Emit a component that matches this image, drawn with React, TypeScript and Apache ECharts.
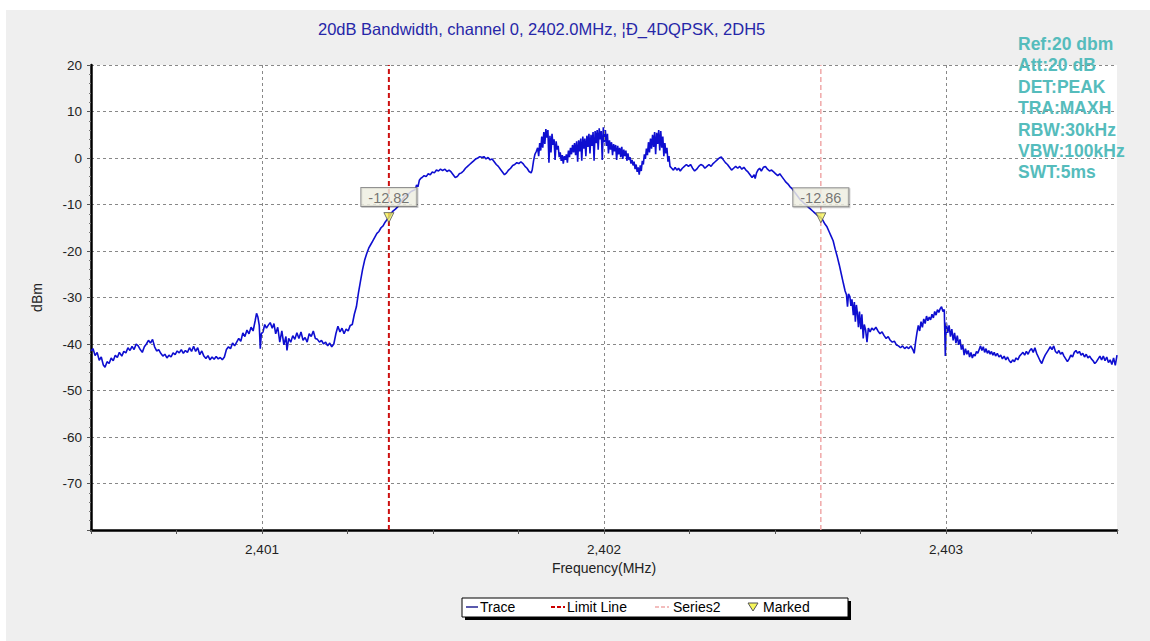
import React, { useEffect, useRef } from 'react';
import * as echarts from 'echarts';

// Trace readings [frequency MHz, level dBm]
const leftSkirt: number[][] = [
  [2400.500, -41.5], [2400.506, -41.0], [2400.512, -42.5], [2400.518, -41.8], [2400.524, -43.5], [2400.530, -42.8],
  [2400.536, -44.5], [2400.541, -45.0], [2400.547, -43.8], [2400.553, -44.2], [2400.559, -43.0], [2400.565, -43.6],
  [2400.571, -42.4], [2400.577, -42.9], [2400.583, -41.8], [2400.590, -42.6], [2400.596, -41.6], [2400.602, -41.9],
  [2400.608, -40.8], [2400.614, -41.4], [2400.620, -40.5], [2400.626, -41.2], [2400.632, -40.0], [2400.638, -40.4],
  [2400.644, -41.2], [2400.650, -41.8], [2400.656, -40.6], [2400.662, -40.0], [2400.668, -39.2], [2400.674, -39.8],
  [2400.680, -39.0], [2400.686, -40.6], [2400.692, -41.5], [2400.698, -41.2], [2400.704, -42.0], [2400.710, -42.6],
  [2400.716, -42.2], [2400.722, -43.0], [2400.728, -42.4], [2400.734, -42.8], [2400.740, -41.9], [2400.746, -42.3],
  [2400.752, -41.5], [2400.758, -41.9], [2400.764, -41.2], [2400.770, -42.0], [2400.776, -41.4], [2400.782, -41.8],
  [2400.788, -40.8], [2400.794, -41.6], [2400.800, -40.5], [2400.806, -41.6], [2400.812, -40.8], [2400.818, -42.3],
  [2400.824, -41.5], [2400.830, -42.6], [2400.836, -43.1], [2400.842, -42.5], [2400.848, -43.4], [2400.854, -42.8],
  [2400.860, -43.3], [2400.866, -42.7], [2400.872, -43.2], [2400.878, -42.9], [2400.884, -43.4], [2400.890, -42.8],
  [2400.896, -41.2], [2400.902, -40.6], [2400.908, -41.0], [2400.914, -39.8], [2400.920, -40.4], [2400.926, -39.6],
  [2400.932, -38.8], [2400.938, -39.4], [2400.944, -37.6], [2400.950, -38.4], [2400.956, -37.0], [2400.962, -37.8],
  [2400.968, -36.4], [2400.974, -37.2], [2400.980, -35.0], [2400.984, -33.4], [2400.988, -34.2], [2400.992, -36.0],
  [2400.995, -41.0], [2400.998, -37.8], [2401.003, -37.4], [2401.008, -35.8], [2401.013, -36.6], [2401.018, -36.0],
  [2401.024, -35.4], [2401.030, -36.6], [2401.035, -35.6], [2401.040, -37.8], [2401.046, -36.4], [2401.052, -39.6],
  [2401.058, -37.2], [2401.064, -40.2], [2401.070, -38.4], [2401.073, -41.4], [2401.078, -38.8], [2401.084, -39.6],
  [2401.090, -38.2], [2401.096, -39.0], [2401.102, -37.6], [2401.108, -38.8], [2401.114, -37.4], [2401.120, -39.2],
  [2401.126, -38.6], [2401.132, -39.6], [2401.138, -37.8], [2401.144, -38.4], [2401.150, -37.2], [2401.156, -38.8],
  [2401.162, -39.0], [2401.168, -39.6], [2401.174, -39.2], [2401.180, -40.0], [2401.186, -39.6], [2401.192, -40.4],
  [2401.198, -39.8], [2401.204, -40.6], [2401.210, -40.0], [2401.216, -37.8], [2401.222, -36.2], [2401.228, -37.4],
  [2401.234, -36.6], [2401.240, -37.8], [2401.246, -36.8], [2401.252, -37.2], [2401.258, -36.0], [2401.264, -35.8],
  [2401.270, -33.6], [2401.276, -32.0], [2401.282, -29.0], [2401.288, -26.5], [2401.294, -24.0], [2401.300, -22.0],
  [2401.306, -20.6], [2401.312, -19.4], [2401.318, -18.6], [2401.324, -17.8], [2401.330, -17.0], [2401.336, -16.2],
  [2401.342, -15.8], [2401.348, -15.0], [2401.354, -14.6], [2401.360, -13.8], [2401.366, -13.2], [2401.371, -12.82],
  [2401.377, -12.0], [2401.383, -11.4], [2401.390, -11.0], [2401.398, -10.4], [2401.405, -9.6], [2401.412, -8.8],
  [2401.418, -8.2], [2401.424, -8.0], [2401.430, -7.6], [2401.436, -7.2], [2401.442, -7.0], [2401.448, -6.8],
  [2401.452, -5.8], [2401.456, -6.2], [2401.460, -4.8], [2401.464, -4.4], [2401.468, -4.2], [2401.474, -3.8],
];

const mainLobe: number[][] = [
  [2401.480, -4.0], [2401.486, -3.4], [2401.492, -3.6], [2401.498, -3.0], [2401.504, -3.2], [2401.510, -2.6],
  [2401.516, -2.8], [2401.522, -2.4], [2401.528, -2.7], [2401.535, -2.4], [2401.541, -2.9], [2401.547, -2.6],
  [2401.553, -3.0], [2401.559, -3.6], [2401.565, -4.2], [2401.571, -4.0], [2401.577, -3.4], [2401.583, -3.2],
  [2401.589, -2.8], [2401.595, -2.2], [2401.601, -1.8], [2401.607, -1.4], [2401.613, -1.0], [2401.619, -0.6],
  [2401.625, -0.2], [2401.631, 0.0], [2401.637, 0.3], [2401.643, 0.1], [2401.649, 0.3], [2401.655, -0.2],
  [2401.661, 0.1], [2401.667, -0.4], [2401.673, -0.2], [2401.679, -0.8], [2401.685, -1.4], [2401.691, -1.8],
  [2401.697, -2.4], [2401.703, -3.0], [2401.709, -3.6], [2401.715, -3.2], [2401.721, -2.6], [2401.727, -2.2],
  [2401.733, -1.6], [2401.739, -1.4], [2401.745, -1.0], [2401.751, -1.2], [2401.757, -0.8], [2401.763, -1.2],
  [2401.769, -1.8], [2401.775, -2.2], [2401.781, -2.9], [2401.787, -3.2], [2401.790, -2.6], [2401.794, -0.6],
  [2401.798, 0.8], [2401.802, 1.4], [2401.806, 2.2], [2401.809, 0.4], [2401.812, 3.2], [2401.815, 1.6],
  [2401.818, 4.6], [2401.821, 2.2], [2401.824, 5.6], [2401.827, 3.0], [2401.830, 6.2], [2401.833, 4.4],
  [2401.836, 6.0], [2401.839, -1.0], [2401.842, 4.8], [2401.845, 1.2], [2401.848, 5.2], [2401.851, 2.8],
  [2401.854, 4.0], [2401.857, -0.4], [2401.860, 3.6], [2401.863, 1.8], [2401.866, 2.6], [2401.869, 0.2],
  [2401.872, 1.2], [2401.875, -0.6], [2401.878, 0.6], [2401.881, -1.2], [2401.884, 0.4], [2401.887, -0.4],
  [2401.890, 0.8], [2401.893, -1.0], [2401.896, 1.6], [2401.899, 0.2], [2401.902, 2.2], [2401.905, 0.8],
  [2401.908, 2.8], [2401.911, 1.2], [2401.914, 3.2], [2401.917, 0.6], [2401.920, 3.6], [2401.923, -0.8],
  [2401.926, 3.8], [2401.929, 1.4], [2401.932, 4.2], [2401.935, -0.6], [2401.938, 4.6], [2401.941, 2.0],
  [2401.944, 4.2], [2401.947, 0.4], [2401.950, 4.8], [2401.953, 2.4], [2401.956, 5.2], [2401.959, 1.0],
  [2401.962, 5.0], [2401.965, 2.6], [2401.968, 5.6], [2401.971, -0.6], [2401.974, 5.8], [2401.977, 3.2],
  [2401.980, 6.0], [2401.983, 1.8], [2401.986, 6.4], [2401.989, 4.0], [2401.992, 5.8], [2401.995, -0.4],
  [2401.998, 6.6], [2402.001, 3.4], [2402.004, 6.0], [2402.007, 2.6], [2402.010, 5.2], [2402.013, 1.0],
  [2402.016, 3.8], [2402.019, 1.8], [2402.022, 3.4], [2402.025, 0.6], [2402.028, 3.0], [2402.031, 1.4],
  [2402.034, 2.8], [2402.037, -0.4], [2402.040, 2.6], [2402.043, 0.8], [2402.046, 2.2], [2402.049, 0.2],
  [2402.052, 2.4], [2402.055, -0.2], [2402.058, 1.8], [2402.061, 0.4], [2402.064, 1.6], [2402.067, -0.6],
  [2402.070, 1.0], [2402.073, -0.4], [2402.076, 0.2], [2402.079, -1.2], [2402.082, -0.4], [2402.085, -1.6],
  [2402.088, -0.8], [2402.091, -2.4], [2402.094, -1.4], [2402.097, -3.0], [2402.100, -2.0], [2402.103, -3.6],
  [2402.106, -1.6], [2402.109, -2.8], [2402.112, -0.6], [2402.115, -1.4], [2402.118, 0.8], [2402.121, -0.2],
  [2402.124, 2.0], [2402.127, 0.6], [2402.130, 3.4], [2402.133, 1.2], [2402.136, 4.2], [2402.139, 2.0],
  [2402.142, 5.0], [2402.145, 2.4], [2402.148, 5.6], [2402.151, 0.8], [2402.154, 5.4], [2402.157, 3.0],
  [2402.160, 6.0], [2402.163, 1.6], [2402.166, 5.8], [2402.169, 2.2], [2402.172, 4.6], [2402.175, 0.4],
  [2402.178, 3.2], [2402.181, 1.0], [2402.184, 2.2], [2402.187, -0.8], [2402.190, 0.4], [2402.193, -1.8],
  [2402.198, -2.2], [2402.203, -2.6], [2402.208, -2.0], [2402.213, -2.6], [2402.218, -2.2], [2402.223, -2.8],
  [2402.229, -2.2], [2402.235, -1.8], [2402.241, -1.4], [2402.247, -1.8], [2402.253, -1.4], [2402.259, -2.2],
  [2402.265, -2.8], [2402.271, -2.4], [2402.277, -1.8], [2402.283, -1.4], [2402.289, -1.6], [2402.295, -2.2],
  [2402.301, -1.8], [2402.307, -1.4], [2402.313, -1.8], [2402.319, -1.2], [2402.325, -0.8], [2402.331, -0.4],
  [2402.337, 0.0], [2402.343, 0.2], [2402.349, -0.4], [2402.355, -1.0], [2402.361, -1.4], [2402.367, -2.0],
  [2402.373, -2.6], [2402.379, -2.2], [2402.385, -1.8], [2402.391, -2.2], [2402.397, -1.8], [2402.403, -2.4],
  [2402.409, -2.0], [2402.415, -2.6], [2402.421, -3.0], [2402.427, -3.6], [2402.433, -4.2], [2402.439, -3.6],
  [2402.442, -4.4], [2402.446, -3.2], [2402.450, -2.6], [2402.455, -2.2], [2402.460, -2.8], [2402.466, -2.0],
  [2402.472, -1.8], [2402.478, -2.4], [2402.484, -2.8], [2402.490, -2.6], [2402.496, -3.0], [2402.502, -3.4],
  [2402.508, -3.8], [2402.514, -3.4], [2402.520, -4.0], [2402.526, -4.6], [2402.532, -5.2], [2402.538, -5.6],
  [2402.544, -6.2], [2402.550, -6.6], [2402.556, -7.2], [2402.562, -7.8], [2402.568, -8.4], [2402.574, -9.0],
  [2402.580, -9.4], [2402.586, -9.8], [2402.592, -10.2], [2402.598, -10.6], [2402.604, -11.0], [2402.610, -11.4],
  [2402.616, -11.8], [2402.622, -12.2], [2402.628, -12.5], [2402.634, -12.86],
];

const rightSkirt: number[][] = [
  [2402.640, -13.4], [2402.646, -14.2], [2402.652, -14.8], [2402.658, -15.8], [2402.664, -16.8], [2402.670, -17.8],
  [2402.676, -19.6], [2402.682, -21.2], [2402.688, -23.0], [2402.694, -25.0], [2402.700, -27.0], [2402.705, -28.6],
  [2402.709, -29.4], [2402.712, -32.0], [2402.715, -29.2], [2402.719, -29.8], [2402.722, -31.8], [2402.725, -30.4],
  [2402.729, -33.8], [2402.732, -31.0], [2402.735, -35.2], [2402.738, -31.6], [2402.741, -33.4], [2402.744, -36.4],
  [2402.747, -33.0], [2402.751, -36.8], [2402.754, -33.6], [2402.758, -38.8], [2402.761, -35.8], [2402.765, -37.0],
  [2402.769, -39.6], [2402.773, -36.6], [2402.778, -37.4], [2402.783, -36.6], [2402.789, -37.0], [2402.795, -36.4],
  [2402.801, -37.2], [2402.807, -37.8], [2402.813, -37.4], [2402.819, -38.2], [2402.825, -38.8], [2402.831, -38.4],
  [2402.837, -39.2], [2402.843, -39.6], [2402.849, -39.4], [2402.855, -40.2], [2402.861, -40.4], [2402.867, -40.8],
  [2402.873, -40.4], [2402.879, -41.0], [2402.885, -40.6], [2402.891, -41.0], [2402.897, -40.4], [2402.903, -41.2],
  [2402.907, -42.0], [2402.911, -39.6], [2402.915, -37.6], [2402.919, -36.0], [2402.923, -37.2], [2402.927, -35.2],
  [2402.931, -36.4], [2402.935, -34.6], [2402.939, -35.6], [2402.943, -34.0], [2402.947, -35.0], [2402.951, -34.2],
  [2402.955, -34.8], [2402.959, -33.6], [2402.963, -34.4], [2402.967, -33.0], [2402.971, -33.8], [2402.975, -32.6],
  [2402.979, -33.2], [2402.983, -32.4], [2402.987, -32.0], [2402.991, -33.0], [2402.995, -32.6], [2402.998, -42.6],
  [2403.001, -35.4], [2403.005, -37.6], [2403.009, -36.0], [2403.013, -38.4], [2403.017, -36.8], [2403.021, -39.2],
  [2403.025, -37.6], [2403.029, -39.8], [2403.033, -38.2], [2403.037, -40.2], [2403.041, -39.0], [2403.045, -41.2],
  [2403.049, -40.2], [2403.053, -42.4], [2403.057, -41.0], [2403.061, -42.2], [2403.065, -41.4], [2403.069, -42.8],
  [2403.073, -41.8], [2403.077, -43.0], [2403.081, -42.2], [2403.085, -42.6], [2403.089, -41.6], [2403.093, -42.0],
  [2403.097, -41.2], [2403.101, -40.4], [2403.105, -41.4], [2403.109, -40.6], [2403.113, -41.8], [2403.117, -41.0],
  [2403.121, -42.0], [2403.125, -41.4], [2403.129, -42.2], [2403.133, -41.6], [2403.137, -42.4], [2403.141, -41.8],
  [2403.145, -42.6], [2403.150, -42.0], [2403.155, -42.8], [2403.160, -42.4], [2403.165, -43.2], [2403.170, -42.6],
  [2403.175, -43.4], [2403.180, -42.8], [2403.185, -43.6], [2403.190, -44.0], [2403.195, -43.4], [2403.200, -43.8],
  [2403.205, -43.0], [2403.210, -43.4], [2403.215, -42.6], [2403.220, -42.2], [2403.225, -41.8], [2403.230, -42.4],
  [2403.235, -41.6], [2403.240, -42.2], [2403.245, -41.4], [2403.250, -41.0], [2403.255, -41.8], [2403.260, -40.8],
  [2403.265, -42.0], [2403.270, -42.8], [2403.275, -43.6], [2403.280, -44.2], [2403.285, -43.2], [2403.290, -42.4],
  [2403.295, -41.8], [2403.300, -41.2], [2403.305, -40.6], [2403.310, -41.2], [2403.315, -40.4], [2403.320, -41.6],
  [2403.325, -42.0], [2403.330, -41.4], [2403.335, -42.2], [2403.340, -41.8], [2403.345, -42.6], [2403.350, -43.2],
  [2403.355, -43.8], [2403.360, -43.2], [2403.365, -42.4], [2403.370, -42.8], [2403.375, -41.8], [2403.380, -41.4],
  [2403.385, -42.0], [2403.390, -41.6], [2403.395, -42.4], [2403.400, -42.0], [2403.405, -42.8], [2403.410, -42.2],
  [2403.415, -43.0], [2403.420, -42.6], [2403.425, -43.2], [2403.430, -43.6], [2403.435, -44.2], [2403.440, -43.8],
  [2403.445, -43.2], [2403.450, -42.6], [2403.455, -43.4], [2403.460, -42.6], [2403.465, -43.6], [2403.470, -42.8],
  [2403.475, -44.0], [2403.480, -43.4], [2403.485, -44.4], [2403.490, -43.0], [2403.495, -44.6], [2403.500, -42.4],
];

const trace = [...leftSkirt, ...mainLobe, ...rightSkirt];

const markerFreq = [2401.371, 2402.634];
const markerLevel = [-12.82, -12.86];
const limitLineFreq = 2401.371;
const series2Freq = 2402.634;

const xMin = 2400.5;
const xMax = 2403.5;
const yMin = -80;
const yMax = 20;
const xGridValues = [2401, 2402, 2403];
const xTickLabels = ['2,401', '2,402', '2,403'];

const titleText = '20dB Bandwidth, channel 0, 2402.0MHz, ¦Ð_4DQPSK, 2DH5';
const infoLines = ['Ref:20 dbm', 'Att:20 dB', 'DET:PEAK', 'TRA:MAXH', 'RBW:30kHz', 'VBW:100kHz', 'SWT:5ms'];
const legendNames = ['Trace', 'Limit Line', 'Series2', 'Marked'];

const FONT = '"Liberation Sans", Arial, sans-serif';

export default function App() {
  const ref = useRef<HTMLDivElement>(null);

  useEffect(() => {
    if (!ref.current) return;
    const chart = echarts.init(ref.current, null, { renderer: 'svg' });

    const infoGraphics = infoLines.map((t, i) => ({
      type: 'text',
      x: 1018,
      y: 44 + i * 21.4,
      z: 100,
      style: {
        text: t,
        fill: '#55bcbc',
        font: `bold 17.5px ${FONT}`,
        verticalAlign: 'middle',
      },
    }));

    const legendY = 607;
    const LF = `14px ${FONT}`;
    const legendGraphics: any[] = [
      { type: 'rect', shape: { x: 465, y: 601, width: 386, height: 19 }, style: { fill: '#000' }, z: 100 },
      { type: 'rect', shape: { x: 462, y: 598, width: 386, height: 19 }, style: { fill: '#fff', stroke: '#000', lineWidth: 1 }, z: 101 },
      { type: 'line', shape: { x1: 466, y1: legendY, x2: 478, y2: legendY }, style: { stroke: '#000080', lineWidth: 1.3 }, z: 102 },
      { type: 'text', x: 480, y: legendY, z: 102, style: { text: legendNames[0], fill: '#000', font: LF, verticalAlign: 'middle' } },
      { type: 'line', shape: { x1: 551, y1: legendY, x2: 565, y2: legendY }, style: { stroke: '#cc0000', lineWidth: 2, lineDash: [4, 2] }, z: 102 },
      { type: 'text', x: 567, y: legendY, z: 102, style: { text: legendNames[1], fill: '#000', font: LF, verticalAlign: 'middle' } },
      { type: 'line', shape: { x1: 655, y1: legendY, x2: 669, y2: legendY }, style: { stroke: '#f0a8a8', lineWidth: 1.5, lineDash: [4, 2] }, z: 102 },
      { type: 'text', x: 673, y: legendY, z: 102, style: { text: legendNames[2], fill: '#000', font: LF, verticalAlign: 'middle' } },
      { type: 'polygon', shape: { points: [[748, 603], [758, 603], [753, 611]] }, style: { fill: '#f5f55a', stroke: '#555', lineWidth: 1 }, z: 102 },
      { type: 'text', x: 763, y: legendY, z: 102, style: { text: legendNames[3], fill: '#000', font: LF, verticalAlign: 'middle' } },
    ];

    const option: any = {
      animation: false,
      backgroundColor: '#efefef',
      textStyle: { fontFamily: FONT },
      title: {
        text: titleText,
        left: 313,
        top: 15,
        textStyle: { color: '#2626a8', fontSize: 16.5, fontWeight: 'normal', fontFamily: FONT },
      },
      grid: {
        left: 91,
        right: 33,
        top: 65,
        bottom: 111,
        show: true,
        backgroundColor: '#ffffff',
        borderWidth: 0,
        containLabel: false,
      },
      xAxis: {
        type: 'value',
        min: xMin,
        max: xMax,
        interval: 0.5,
        name: 'Frequency(MHz)',
        nameLocation: 'middle',
        nameGap: 31,
        nameTextStyle: { color: '#222', fontSize: 14, fontFamily: FONT },
        axisLine: { show: true, onZero: false, lineStyle: { color: '#000', width: 2.5 } },
        axisTick: { show: true, length: 4, lineStyle: { color: '#555' } },
        minorTick: { show: true, splitNumber: 2, length: 4, lineStyle: { color: '#555' } },
        axisLabel: {
          color: '#222',
          fontSize: 13.5,
          margin: 12,
          formatter: (v: number) => {
            const i = xGridValues.findIndex((g) => Math.abs(g - v) < 1e-6);
            return i >= 0 ? xTickLabels[i] : '';
          },
        },
        splitLine: { show: false },
      },
      yAxis: {
        type: 'value',
        min: yMin,
        max: yMax,
        interval: 10,
        name: 'dBm',
        nameLocation: 'middle',
        nameGap: 47,
        nameTextStyle: { color: '#222', fontSize: 14, fontFamily: FONT },
        axisLine: { show: true, onZero: false, lineStyle: { color: '#000', width: 2.5 } },
        axisTick: { show: true, length: 4, lineStyle: { color: '#555' } },
        minorTick: { show: true, splitNumber: 5, length: 2, lineStyle: { color: '#777' } },
        axisLabel: {
          color: '#222',
          fontSize: 13.5,
          margin: 9,
          formatter: (v: number) => (v === yMin ? '' : String(v)),
        },
        splitLine: { show: true, lineStyle: { color: '#888', type: [3, 3], width: 1 } },
      },
      graphic: [
        { type: 'rect', shape: { x: 0, y: 0, width: 1150, height: 10 }, style: { fill: '#ffffff' }, z: 0 },
        { type: 'rect', shape: { x: 0, y: 0, width: 6, height: 641 }, style: { fill: '#ffffff' }, z: 0 },
        ...infoGraphics,
        ...legendGraphics,
      ],
      series: [
        {
          name: 'grid',
          type: 'line',
          data: [],
          silent: true,
          markLine: {
            silent: true,
            symbol: 'none',
            label: { show: false },
            lineStyle: { color: '#888', type: [3, 3], width: 1 },
            data: xGridValues.map((x) => ({ xAxis: x })),
          },
          z: 1,
        },
        {
          name: 'Limit Line',
          type: 'line',
          data: [[limitLineFreq, yMin], [limitLineFreq, yMax]],
          showSymbol: false,
          lineStyle: { color: '#cc1010', width: 2, type: [5, 3] },
          z: 2,
        },
        {
          name: 'Series2',
          type: 'line',
          data: [[series2Freq, yMin], [series2Freq, yMax]],
          showSymbol: false,
          lineStyle: { color: '#f0a8a8', width: 1.5, type: [5, 3] },
          z: 2,
        },
        {
          name: 'Trace',
          type: 'line',
          data: trace,
          showSymbol: false,
          symbol: 'none',
          lineStyle: { color: '#0e0ed0', width: 1.6 },
          z: 3,
        },
        {
          name: 'Marked',
          type: 'scatter',
          data: markerFreq.map((f, i) => [f, markerLevel[i]]),
          symbol: 'triangle',
          symbolRotate: 180,
          symbolSize: 10,
          itemStyle: { color: '#f5f55a', borderColor: '#555', borderWidth: 1 },
          label: {
            show: true,
            position: 'top',
            distance: 6,
            formatter: (p: any) => p.value[1].toFixed(2),
            color: '#555',
            fontSize: 14.5,
            fontFamily: FONT,
            backgroundColor: '#f4f4e6',
            borderColor: '#777',
            borderWidth: 1,
            padding: [2, 7, 1, 7],
            shadowColor: 'rgba(0,0,0,0.25)',
            shadowOffsetX: 1,
            shadowOffsetY: 1,
            shadowBlur: 1,
          },
          z: 5,
        },
      ],
    };

    chart.setOption(option);
    return () => chart.dispose();
  }, []);

  return <div ref={ref} style={{ position: 'fixed', left: 0, top: 0, width: 1150, height: 641 }} />;
}
